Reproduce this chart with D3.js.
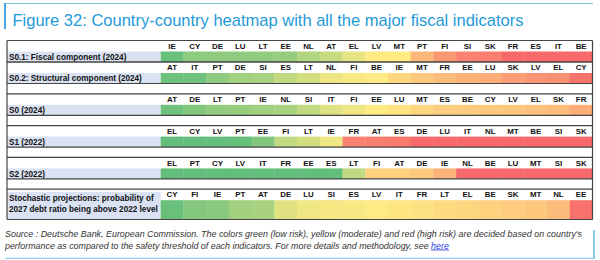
<!DOCTYPE html>
<html><head><meta charset="utf-8">
<script src="https://cdn.jsdelivr.net/npm/d3@7"></script>
<style>
html,body{margin:0;padding:0;background:#fff;}
svg{display:block;font-family:"Liberation Sans",Arial,sans-serif;}
</style></head>
<body>
<svg id="chart" width="600" height="260"></svg>
<script>
// ---------- data ----------
const titleText = "Figure 32: Country-country heatmap with all the major fiscal indicators";
const sourceLine1 = "Source : Deutsche Bank, European Commission. The colors green (low risk), yellow (moderate) and red (high risk) are decided based on country's";
const sourceLine2 = "performance as compared to the safety threshold of each indicators. For more details and methodology, see ";
const linkText = "here";

const rowLabels = [
  ["S0.1: Fiscal component (2024)"],
  ["S0.2: Structural component (2024)"],
  ["S0 (2024)"],
  ["S1 (2022)"],
  ["S2 (2022)"],
  ["Stochastic projections: probability of", "2027 debt ratio being above 2022 level"]
];

// risk score: 0 = low (green), 0.5 = moderate (yellow), 1 = high (red)
const s01Countries = ["IE","CY","DE","LU","LT","EE","NL","AT","EL","LV","MT","PT","FI","SI","SK","FR","ES","IT","BE"];
const s01Scores    = [0.02,0.13,0.14,0.14,0.15,0.16,0.25,0.32,0.42,0.5,0.5,0.7,0.82,0.9,0.92,1,1,1,1];

const s02Countries = ["AT","IT","PT","DE","SI","ES","LT","NL","FI","BE","IE","MT","FR","EE","LU","SK","LV","EL","CY"];
const s02Scores    = [0.03,0.04,0.14,0.2,0.22,0.3,0.36,0.44,0.48,0.5,0.58,0.64,0.68,0.72,0.74,0.8,0.83,0.85,0.96];

const s0Countries  = ["AT","DE","LT","PT","IE","NL","SI","IT","FI","EE","LU","MT","ES","BE","CY","LV","EL","SK","FR"];
const s0Scores     = [0.04,0.1,0.15,0.17,0.2,0.22,0.3,0.4,0.45,0.5,0.53,0.58,0.61,0.62,0.63,0.64,0.66,0.68,0.74];

const s1Countries  = ["EL","CY","LV","PT","EE","FI","LT","IE","FR","AT","ES","DE","LU","IT","NL","MT","BE","SI","SK"];
const s1Scores     = [0,0,0,0.01,0.1,0.3,0.36,0.45,0.9,0.92,0.93,1,1,1,1,1,1,1,1];

const s2Countries  = ["EL","PT","CY","LV","IT","FR","EE","ES","LT","FI","AT","DE","IE","NL","BE","LU","MT","SI","SK"];
const s2Scores     = [0,0,0,0,0,0,0,0,0.3,0.6,0.6,0.63,0.72,1,1,1,1,1,1];

const stochCountries = ["CY","FI","IE","PT","AT","DE","LU","SI","ES","LV","IT","FR","LT","EL","BE","SK","MT","NL","EE"];
const stochScores    = [0.02,0.1,0.12,0.2,0.22,0.4,0.45,0.47,0.48,0.5,0.52,0.54,0.56,0.58,0.6,0.62,0.64,0.68,0.97];

const rowCountries = [s01Countries, s02Countries, s0Countries, s1Countries, s2Countries, stochCountries];
const rowScores    = [s01Scores, s02Scores, s0Scores, s1Scores, s2Scores, stochScores];

// ---------- layout ----------
const svg = d3.select("#chart");
const tableLeft = 7, labelRight = 160.7, tableRight = 592.5, tableTop = 40.5;
const headerH = 11, cellH = 10.5, gapH = 10.3, tallCellH = 19.3;
const gapAfter = [false, true, true, true, true, false];

const x = d3.scaleBand().domain(d3.range(19)).range([labelRight, tableRight]).paddingInner(0).paddingOuter(0);
const color = d3.scaleLinear().domain([0, 0.5, 1]).range(["#63BE7B", "#FFEB84", "#F8696B"]).interpolate(d3.interpolateRgb);

// compute row positions
let yCur = tableTop;
const blocks = rowLabels.map((lab, i) => {
  const hTop = yCur;
  const cTop = hTop + headerH;
  const ch = (i === rowLabels.length - 1) ? tallCellH : cellH;
  const cBot = cTop + ch;
  yCur = cBot + (gapAfter[i] ? gapH : 0);
  return {i, lab, hTop, cTop, cBot, countries: rowCountries[i], scores: rowScores[i]};
});
const tableBottom = blocks[blocks.length - 1].cBot;

// ---------- title ----------
svg.append("line").attr("x1", 4).attr("x2", 593).attr("y1", 3.5).attr("y2", 3.5)
  .attr("stroke", "#7cc3ea").attr("stroke-width", 1);
svg.append("rect").attr("x", 4).attr("y", 3).attr("width", 2).attr("height", 26).attr("fill", "#45a8e0");
svg.append("text").attr("x", 12.5).attr("y", 26)
  .attr("font-size", 17).attr("fill", "#1f9ad8")
  .attr("textLength", 511).attr("lengthAdjust", "spacingAndGlyphs")
  .text(titleText);

// ---------- table ----------
const g = svg.append("g");

blocks.forEach(b => {
  const last = b.i === blocks.length - 1;
  const lblTop = last ? b.hTop + 2.5 : b.cTop;
  g.append("rect").attr("x", tableLeft).attr("y", lblTop)
    .attr("width", labelRight - tableLeft).attr("height", b.cBot - lblTop)
    .attr("fill", "#d9e1f2");
  g.selectAll(null).data(b.scores).enter().append("rect")
    .attr("x", (d, j) => x(j)).attr("y", b.cTop)
    .attr("width", x.bandwidth() + 0.3).attr("height", b.cBot - b.cTop)
    .attr("fill", d => color(d));
  g.selectAll(null).data(b.countries).enter().append("text")
    .attr("x", (d, j) => x(j) + x.bandwidth() / 2).attr("y", b.cTop - 2.8)
    .attr("text-anchor", "middle").attr("font-size", 7.9).attr("font-weight", "bold")
    .attr("fill", "#111").text(d => d);
  if (b.lab.length === 1) {
    g.append("text").attr("x", tableLeft + 2).attr("y", (b.cTop + b.cBot) / 2 + 2.9)
      .attr("font-size", 8.2).attr("font-weight", "bold").attr("fill", "#111").text(b.lab[0]);
  } else {
    b.lab.forEach((t, k) => {
      g.append("text").attr("x", tableLeft + 2).attr("y", lblTop + 9.5 + k * 11.2)
        .attr("font-size", 8.2).attr("font-weight", "bold").attr("fill", "#111").text(t);
    });
  }
  g.append("line").attr("x1", tableLeft).attr("x2", tableRight).attr("y1", b.hTop).attr("y2", b.hTop)
    .attr("stroke", "#444").attr("stroke-width", 1.2);
  g.append("line").attr("x1", tableLeft).attr("x2", tableRight).attr("y1", b.cBot).attr("y2", b.cBot)
    .attr("stroke", "#444").attr("stroke-width", 1.2);
});

g.append("line").attr("x1", tableLeft).attr("x2", tableLeft).attr("y1", tableTop).attr("y2", tableBottom)
  .attr("stroke", "#444").attr("stroke-width", 1.2);
g.append("line").attr("x1", tableRight).attr("x2", tableRight).attr("y1", tableTop).attr("y2", tableBottom)
  .attr("stroke", "#444").attr("stroke-width", 1.2);

// ---------- source ----------
svg.append("text").attr("x", 5).attr("y", 237)
  .attr("font-size", 8.9).attr("font-style", "italic").attr("fill", "#333")
  .attr("textLength", 577).attr("lengthAdjust", "spacingAndGlyphs")
  .text(sourceLine1);
const s2 = svg.append("text").attr("x", 5).attr("y", 248.5)
  .attr("font-size", 8.9).attr("font-style", "italic").attr("fill", "#333");
s2.append("tspan").text(sourceLine2);
s2.append("tspan").attr("fill", "#2b3fe0").attr("text-decoration", "underline").text(linkText);

svg.append("line").attr("x1", 5).attr("x2", 594.5).attr("y1", 258.3).attr("y2", 258.3)
  .attr("stroke", "#7cc3ea").attr("stroke-width", 1);
svg.append("line").attr("x1", 594).attr("x2", 594).attr("y1", 230).attr("y2", 258.8)
  .attr("stroke", "#45a8e0").attr("stroke-width", 1.2);
</script>
</body></html>
